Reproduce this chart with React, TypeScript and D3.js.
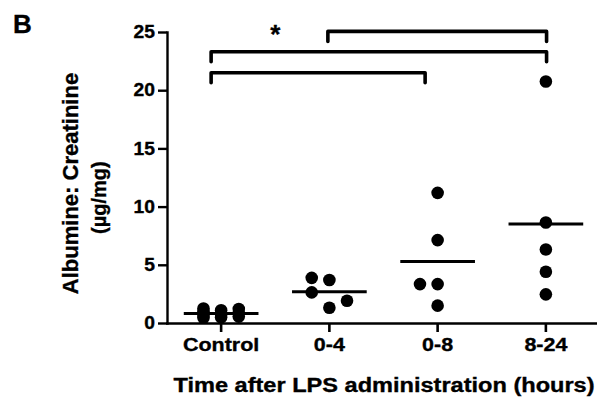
import { useEffect, useRef } from "react";
import * as d3 from "d3";

// groups on the x axis
const categories = ["Control", "0-4", "0-8", "8-24"];
// albumine:creatinine per animal, in plotting order
const controlValues = [1.1, 1.25, 1.2, 1.0, 0.85, 0.75, 0.6, 0.55, 0.5, 0.45];
const h0to4Values = [1.31, 3.69, 2.63, 3.88, 1.91];
const h0to8Values = [11.18, 7.12, 3.34, 3.34, 1.49];
const h8to24Values = [20.75, 8.64, 6.32, 4.4, 2.46];
const yTicks = [0, 5, 10, 15, 20, 25];
const comparisons = [
  { from: "Control", to: "0-8", level: 21.5 },
  { from: "Control", to: "8-24", level: 23.3 },
  { from: "0-4", to: "8-24", level: 25.05 },
];
const starLevel = 24.9;

const W = 597;
const H = 398;
const FONT = "'Liberation Sans', Arial, Helvetica, sans-serif";
// brackets were drawn by hand, ends sit a little off the ticks
const bracketNudge: Record<string, number> = { Control: -10, "0-4": -1.5, "0-8": -12.5, "8-24": 0.7 };

const App = () => {
  const divRef = useRef<HTMLDivElement>(null);

  useEffect(() => {
    if (!divRef.current) return;
    d3.select(divRef.current).selectAll("svg").remove();
    const svg = d3
      .select(divRef.current)
      .append("svg")
      .attr("width", W)
      .attr("height", H)
      .style("display", "block")
      .style("background", "#fff");

    const groups = [controlValues, h0to4Values, h0to8Values, h8to24Values];

    const x = d3.scaleBand<string>().domain(categories).range([167, 600]);
    const y = d3.scaleLinear().domain([0, 25]).range([323, 32]);
    const cx = (c: string) => (x(c) ?? 0) + x.bandwidth() / 2;

    const boldText = (sel: d3.Selection<any, any, any, any>, size: number) =>
      sel
        .attr("fill", "#000")
        .attr("stroke", "#000")
        .attr("stroke-width", 0.35)
        .attr("font-family", FONT)
        .attr("font-weight", "bold")
        .attr("font-size", size);

    // x axis
    const xAxisG = svg
      .append("g")
      .attr("transform", `translate(0,${y(0)})`)
      .call(d3.axisBottom(x).tickSize(9).tickSizeOuter(0).tickPadding(6));
    xAxisG.selectAll("path,line").attr("stroke", "#000").attr("stroke-width", 2.6);
    boldText(xAxisG.selectAll("text"), 19).attr("transform", "scale(1.13,1)");

    // y axis
    const yAxisG = svg
      .append("g")
      .attr("transform", `translate(167,0)`)
      .call(d3.axisLeft(y).tickValues(yTicks).tickSize(9).tickSizeOuter(0).tickPadding(3));
    yAxisG.selectAll("path,line").attr("stroke", "#000").attr("stroke-width", 2.4);
    boldText(yAxisG.selectAll("text"), 17.5)
      .attr("x", -12 / 1.1)
      .attr("transform", "scale(1.1,1)");
    svg.selectAll(".domain").attr("stroke-linecap", "square");

    // scatter: points spread into columns when they would overlap
    const step = x.bandwidth() * 0.163;
    const minDist = 14;
    groups.forEach((vals, gi) => {
      const c = cx(categories[gi]);
      const placed: { py: number; col: number }[] = [];
      vals.forEach((v) => {
        const py = y(v);
        let best = 0;
        let bestGap = -Infinity;
        for (const col of [0, -1, 1]) {
          const same = placed.filter((p) => p.col === col);
          const gap = same.length ? d3.min(same, (p) => Math.abs(p.py - py)) ?? Infinity : Infinity;
          if (gap >= minDist) {
            best = col;
            break;
          }
          if (gap > bestGap) {
            bestGap = gap;
            best = col;
          }
        }
        placed.push({ py, col: best });
      });
      svg
        .append("g")
        .selectAll("circle")
        .data(placed)
        .join("circle")
        .attr("cx", (p) => c + p.col * step)
        .attr("cy", (p) => p.py)
        .attr("r", 6.3)
        .attr("fill", "#000");

      const m = d3.mean(vals) ?? 0;
      svg
        .append("line")
        .attr("x1", c - x.bandwidth() * 0.345)
        .attr("x2", c + x.bandwidth() * 0.345)
        .attr("y1", y(m))
        .attr("y2", y(m))
        .attr("stroke", "#000")
        .attr("stroke-width", 3);
    });

    // significance brackets
    const drop = 10;
    svg
      .append("g")
      .selectAll("path")
      .data(comparisons)
      .join("path")
      .attr("d", (d) => {
        const x1 = cx(d.from) + bracketNudge[d.from];
        const x2 = cx(d.to) + bracketNudge[d.to];
        const yy = y(d.level);
        return `M${x1},${yy + drop}L${x1},${yy}L${x2},${yy}L${x2},${yy + drop}`;
      })
      .attr("fill", "none")
      .attr("stroke", "#000")
      .attr("stroke-width", 3.6)
      .attr("stroke-linecap", "round")
      .attr("stroke-linejoin", "round");

    boldText(
      svg
        .append("text")
        .attr("x", (cx(categories[0]) + cx(categories[1])) / 2)
        .attr("y", y(starLevel) + 10)
        .attr("text-anchor", "middle"),
      26
    ).text("*");

    // titles
    boldText(
      svg
        .append("text")
        .attr("transform", "translate(384,391.7) scale(1.15,1)")
        .attr("text-anchor", "middle"),
      20.5
    ).text("Time after LPS administration (hours)");

    boldText(
      svg
        .append("text")
        .attr("transform", "translate(78,183.5) rotate(-90)")
        .attr("text-anchor", "middle"),
      22
    ).text("Albumine: Creatinine");

    boldText(
      svg
        .append("text")
        .attr("transform", "translate(106,197.7) rotate(-90)")
        .attr("text-anchor", "middle"),
      20
    ).text("(µg/mg)");

    boldText(svg.append("text").attr("x", 13).attr("y", 33), 26).text("B");
  }, []);

  return <div ref={divRef} style={{ position: "absolute", left: 0, top: 0 }}></div>;
};

export default App;
